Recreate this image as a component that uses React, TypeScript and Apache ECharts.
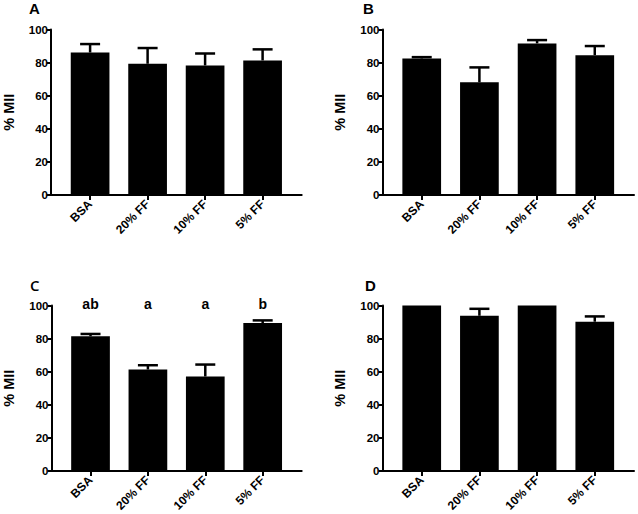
import React, { useEffect, useRef } from "react";
import * as echarts from "echarts";

const categories = ["BSA", "20% FF", "10% FF", "5% FF"];
const yTicks = [0, 20, 40, 60, 80, 100];

const meanA = [86.1, 79.3, 78.3, 81.3];
const semA = [5.1, 9.5, 7.2, 6.7];
const meanB = [82.5, 68.1, 91.6, 84.5];
const semB = [0.8, 9.0, 2.0, 5.5];
const meanC = [81.4, 61.3, 57.1, 89.4];
const semC = [1.4, 2.6, 7.2, 1.6];
const meanD = [100, 93.8, 100, 90.2];
const semD = [0, 4.2, 0, 3.2];
const lettersC = ["ab", "a", "a", "b"];
const letterLevel = 101;

const FONT = '"Liberation Sans", Arial, sans-serif';

const panels = [
  { id: "A", mean: meanA, sem: semA, grid: { left: 50, top: 29.5, width: 251.7, height: 165.5 }, label: [29, 0.5] },
  { id: "B", mean: meanB, sem: semB, grid: { left: 382.5, top: 29.5, width: 251.5, height: 165.5 }, label: [363, 1] },
  { id: "C", mean: meanC, sem: semC, grid: { left: 51.5, top: 305.5, width: 250.2, height: 167 }, label: [30, 277], letters: lettersC },
  { id: "D", mean: meanD, sem: semD, grid: { left: 382.5, top: 305.5, width: 251.5, height: 167 }, label: [365, 277.5] },
];

export default function App() {
  const ref = useRef<HTMLDivElement>(null);
  useEffect(() => {
    document.body.style.margin = "0";
    if (!ref.current) return;
    const chart = echarts.init(ref.current, undefined, { renderer: "svg" });
    const lineStyle = { color: "#000", width: 2 };
    const idx = categories.map((_, j) => j);

    const grid: any[] = [];
    const xAxis: any[] = [];
    const yAxis: any[] = [];
    const series: any[] = [];
    const graphic: any[] = [];

    panels.forEach((p, i) => {
      grid.push({ ...p.grid, containLabel: false });
      xAxis.push({
        type: "value",
        gridIndex: i,
        min: -0.68,
        max: 3.68,
        axisLine: { show: true, onZero: false, lineStyle },
        axisTick: { show: true, customValues: idx, length: 5, lineStyle },
        axisLabel: {
          customValues: idx,
          rotate: 45,
          margin: 7,
          formatter: (v: number) => categories[Math.round(v)] ?? "",
          fontFamily: FONT,
          fontWeight: "bold",
          fontSize: 12,
          color: "#000",
        },
        splitLine: { show: false },
      });
      yAxis.push({
        type: "value",
        gridIndex: i,
        min: yTicks[0],
        max: yTicks[yTicks.length - 1],
        interval: 20,
        name: "% MII",
        nameLocation: "middle",
        nameRotate: 90,
        nameGap: 35,
        nameTextStyle: { fontFamily: FONT, fontWeight: "bold", fontSize: 14.5, color: "#000" },
        axisLine: { show: true, onZero: false, lineStyle },
        axisTick: { show: true, length: 4, lineStyle },
        axisLabel: { margin: 3, fontFamily: FONT, fontWeight: "bold", fontSize: 11.5, color: "#000" },
        splitLine: { show: false },
      });
      series.push({
        type: "bar",
        xAxisIndex: i,
        yAxisIndex: i,
        barWidth: 38.7,
        itemStyle: { color: "#000" },
        data: p.mean.map((v, j) => [j, v]),
      });
      const sem = p.sem;
      series.push({
        type: "custom",
        xAxisIndex: i,
        yAxisIndex: i,
        z: 5,
        data: p.mean.map((v, j) => [j, v, v + sem[j]]),
        renderItem: (params: any, api: any) => {
          const x = api.value(0);
          const base = api.coord([x, api.value(1)]);
          const top = api.coord([x, api.value(2)]);
          if (Math.abs(base[1] - top[1]) < 0.5) return { type: "group", children: [] };
          const st = { stroke: "#000", lineWidth: 2.5 };
          return {
            type: "group",
            children: [
              { type: "line", shape: { x1: top[0], y1: base[1], x2: top[0], y2: top[1] }, style: st },
              { type: "line", shape: { x1: top[0] - 10, y1: top[1], x2: top[0] + 10, y2: top[1] }, style: st },
            ],
          };
        },
      });
      if (p.letters) {
        const letters = p.letters;
        series.push({
          type: "custom",
          xAxisIndex: i,
          yAxisIndex: i,
          clip: false,
          data: letters.map((_, j) => [j, letterLevel]),
          renderItem: (params: any, api: any) => {
            const pt = api.coord([api.value(0), api.value(1)]);
            return {
              type: "text",
              x: pt[0],
              y: pt[1],
              style: {
                text: letters[params.dataIndex],
                textAlign: "center",
                textVerticalAlign: "middle",
                fontFamily: FONT,
                fontWeight: "bold",
                fontSize: 14,
                fill: "#000",
              },
            };
          },
        });
      }
      graphic.push({
        type: "text",
        left: p.label[0],
        top: p.label[1],
        style: {
          text: p.id,
          fontFamily: p.id === "C" ? '"Open Sans", sans-serif' : FONT,
          fontWeight: p.id === "C" ? 600 : "bold",
          fontSize: 15,
          fill: "#000",
        },
      });
    });

    chart.setOption({
      animation: false,
      backgroundColor: "#fff",
      grid,
      xAxis,
      yAxis,
      series,
      graphic,
    });
    return () => chart.dispose();
  }, []);
  return <div ref={ref} style={{ width: 638, height: 514 }} />;
}
